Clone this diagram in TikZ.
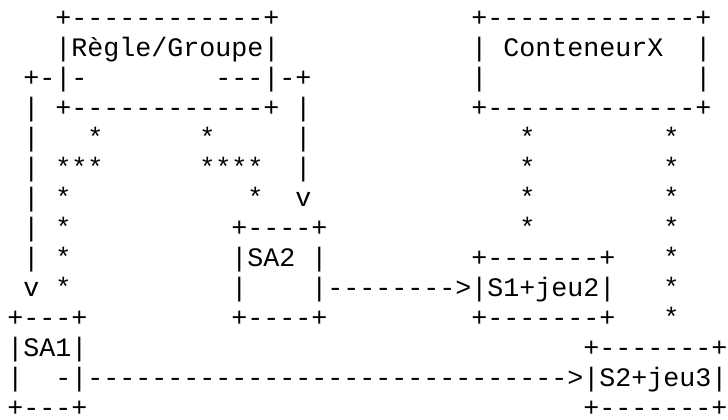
\documentclass[tikz,border=0pt]{standalone}
\usepackage{fontspec}
\newfontfamily\asciifont{Liberation Mono}
\begin{document}
\begin{tikzpicture}[x=0.75pt,y=-0.75pt,
  asciirow/.style={anchor=base west, inner sep=0pt, text=black,
    font=\asciifont\fontsize{20pt}{22.5pt}\selectfont}]
\fill[white] (0,0) rectangle (728,419);
\useasboundingbox (0,0) rectangle (728,419);
\node[asciirow] (r1)  at (7,26)  {~~~+------------+~~~~~~~~~~~~+-------------+};
\node[asciirow] (r2)  at (7,56)  {~~~|Règle/Groupe|~~~~~~~~~~~~|~ConteneurX~~|};
\node[asciirow] (r3)  at (7,86)  {~+-|-~~~~~~~~---|-+~~~~~~~~~~|~~~~~~~~~~~~~|};
\node[asciirow] (r4)  at (7,116) {~|~+------------+~|~~~~~~~~~~+-------------+};
\node[asciirow] (r5)  at (7,146) {~|~~~*~~~~~~*~~~~~|~~~~~~~~~~~~~*~~~~~~~~*};
\node[asciirow] (r6)  at (7,176) {~|~***~~~~~~****~~|~~~~~~~~~~~~~*~~~~~~~~*};
\node[asciirow] (r7)  at (7,206) {~|~*~~~~~~~~~~~*~~v~~~~~~~~~~~~~*~~~~~~~~*};
\node[asciirow] (r8)  at (7,236) {~|~*~~~~~~~~~~+----+~~~~~~~~~~~~*~~~~~~~~*};
\node[asciirow] (r9)  at (7,266) {~|~*~~~~~~~~~~|SA2~|~~~~~~~~~+-------+~~~*};
\node[asciirow] (r10) at (7,296) {~v~*~~~~~~~~~~|~~~~|-------->|S1+jeu2|~~~*};
\node[asciirow] (r11) at (7,326) {+---+~~~~~~~~~+----+~~~~~~~~~+-------+~~~*};
\node[asciirow] (r12) at (7,356) {|SA1|~~~~~~~~~~~~~~~~~~~~~~~~~~~~~~~+-------+};
\node[asciirow] (r13) at (7,386) {|~~-|------------------------------>|S2+jeu3|};
\node[asciirow, text depth=0pt] (r14) at (7,416) {+---+~~~~~~~~~~~~~~~~~~~~~~~~~~~~~~~+-------+};
\end{tikzpicture}
\end{document}
